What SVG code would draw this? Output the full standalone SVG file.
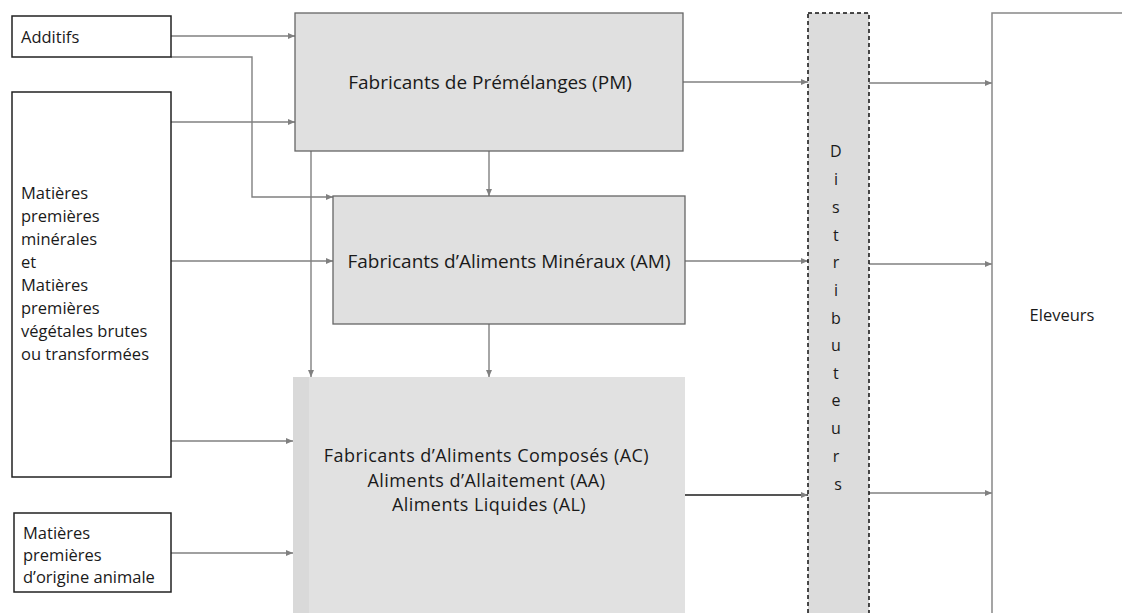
<svg xmlns="http://www.w3.org/2000/svg" width="1122" height="613" viewBox="0 0 1122 613">
<style>
.t{font-family:"Open Sans","Liberation Sans",Arial,sans-serif;fill:#1a1a1a}
.in{fill:#fff;stroke:#222;stroke-width:1.5}
.proc{fill:#e0e0e0;stroke:#666;stroke-width:1.3}
.c{fill:none;stroke:#808080;stroke-width:1.4;marker-end:url(#ah)}
</style>
<defs>
<marker id="ah" markerUnits="userSpaceOnUse" markerWidth="8" markerHeight="8" refX="7" refY="4" orient="auto">
<path d="M0,1 L7,4 L0,7 Z" fill="#808080"/>
</marker>
</defs>
<rect width="1122" height="613" fill="#fff"/>
<g id="connectors">
<path class="c" d="M171,36 H295"/>
<path class="c" d="M171,122 H295"/>
<path class="c" d="M171,57 H252 V197 H333"/>
<path class="c" d="M311,151 V377"/>
<path class="c" d="M171,261 H333"/>
<path class="c" d="M171,441 H293"/>
<path class="c" d="M171,553 H293"/>
<path class="c" d="M489,151 V196"/>
<path class="c" d="M489,324 V377"/>
<path class="c" d="M683,82 H808"/>
<path class="c" d="M685,261 H808"/>
<path class="c" d="M685,495 H808" style="stroke:#555;stroke-width:2"/>
<path class="c" d="M869,83 H992"/>
<path class="c" d="M869,264 H992"/>
<path class="c" d="M869,493 H992"/>
</g>
<g id="additifs">
<rect class="in" x="12" y="16" width="159" height="41"/>
<text class="t" x="21" y="43" font-size="16.5">Additifs</text>
</g>
<g id="matieres">
<rect class="in" x="12" y="92" width="159" height="385"/>
<text class="t" font-size="16.5">
<tspan x="21" y="199">Matières</tspan>
<tspan x="21" y="222">premières</tspan>
<tspan x="21" y="245">minérales</tspan>
<tspan x="21" y="268">et</tspan>
<tspan x="21" y="291">Matières</tspan>
<tspan x="21" y="314">premières</tspan>
<tspan x="21" y="337">végétales brutes</tspan>
<tspan x="21" y="360">ou transformées</tspan>
</text>
</g>
<g id="animale">
<rect class="in" x="14" y="513" width="157" height="79"/>
<text class="t" font-size="16.5">
<tspan x="23" y="539">Matières</tspan>
<tspan x="23" y="561">premières</tspan>
<tspan x="23" y="583">d’origine animale</tspan>
</text>
</g>
<g id="pm">
<rect class="proc" x="295" y="13" width="388" height="138"/>
<text class="t" x="490" y="89" font-size="19" text-anchor="middle">Fabricants de Prémélanges (PM)</text>
</g>
<g id="am">
<rect class="proc" x="333" y="196" width="352" height="128"/>
<text class="t" x="509" y="268" font-size="19" text-anchor="middle">Fabricants d’Aliments Minéraux (AM)</text>
</g>
<g id="ac">
<rect x="293" y="377" width="392" height="240" fill="#e1e1e1"/>
<rect x="293" y="377" width="16" height="240" fill="#d9d9d9"/>
<text class="t" font-size="18" letter-spacing="0.45" text-anchor="middle">
<tspan x="489" y="462">Fabricants d’Aliments Composés (AC)</tspan>
<tspan x="489" y="486.5">Aliments d’Allaitement (AA)</tspan>
<tspan x="489" y="511">Aliments Liquides (AL)</tspan>
</text>
</g>
<g id="distributeurs">
<rect x="808" y="13" width="61" height="610" fill="#dcdcdc" stroke="#111" stroke-width="1.5" stroke-dasharray="4 3"/>
<text class="t" font-size="16" text-anchor="middle">
<tspan x="838" y="157">D</tspan>
<tspan x="838" y="185">i</tspan>
<tspan x="838" y="213">s</tspan>
<tspan x="838" y="241">t</tspan>
<tspan x="838" y="268">r</tspan>
<tspan x="838" y="296">i</tspan>
<tspan x="838" y="324">b</tspan>
<tspan x="838" y="351">u</tspan>
<tspan x="838" y="379">t</tspan>
<tspan x="838" y="406">e</tspan>
<tspan x="838" y="434">u</tspan>
<tspan x="838" y="462">r</tspan>
<tspan x="838" y="490">s</tspan>
</text>
</g>
<g id="eleveurs">
<rect x="992" y="13" width="140" height="610" fill="#fff" stroke="#888" stroke-width="1.5"/>
<text class="t" x="1062" y="321" font-size="16.5" text-anchor="middle">Eleveurs</text>
</g>
</svg>
